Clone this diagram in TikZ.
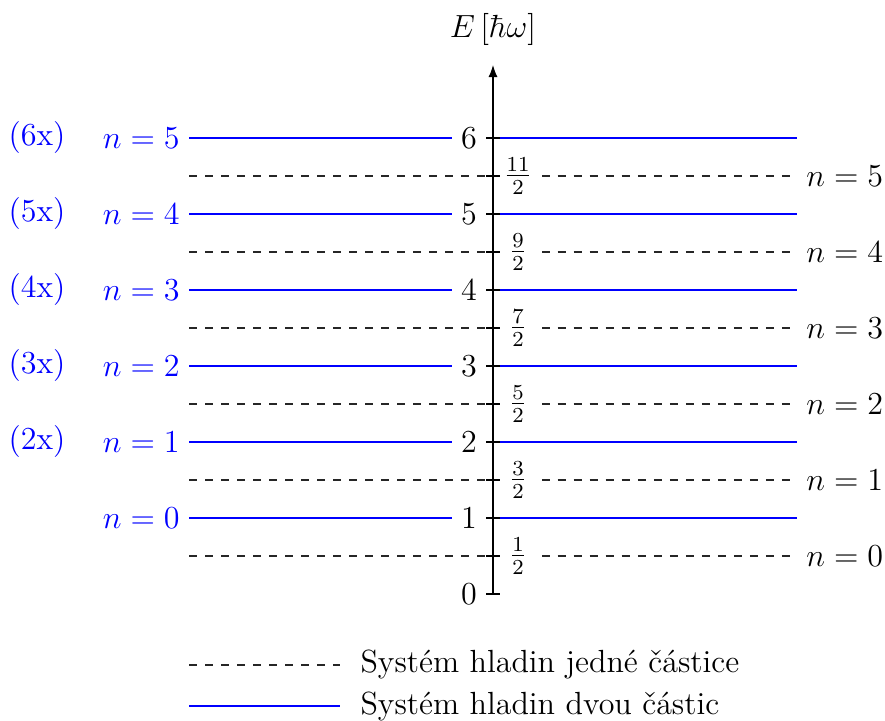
\documentclass[tikz,border=0pt]{standalone}
\usetikzlibrary{arrows.meta}
\begin{document}
\begin{tikzpicture}[
  lvl/.style={blue, line width=0.4pt},
  halflvl/.style={dashed, line width=0.4pt, black!85},
  txt/.style={font=\large},
  ticklab/.style={font=\large, fill=white},
  bluelab/.style={font=\large, text=blue}
]
\useasboundingbox (-6.487,-1.658) rectangle (5.158,7.816);
% levels of two particles (blue) and one particle (dashed)
\foreach \k in {1,...,6} {
  \draw[lvl] (-4,\k) -- (4,\k);
}
\foreach \k in {0,...,5} {
  \draw[halflvl] (-4,\k+0.5) -- (4,\k+0.5);
}
% integer tick labels
\foreach \k in {0,...,6} {
  \node[ticklab, anchor=east] (t\k) at (-0.09,\k) {$\k$};
}
% half tick labels
\foreach \k/\f in {0/1,1/3,2/5,3/7,4/9,5/11} {
  \node[ticklab, minimum width=0.62cm] (h\k) at (0.33,\k+0.5) {$\frac{\f}{2}$};
}
% axis
\coordinate (ax0) at (0,0);
\coordinate (ax1) at (0,6.96);
\draw[-{Latex[length=1.6mm,width=1.2mm]}, line width=0.4pt] (ax0) -- (ax1);
\node[txt] (Elab) at (0,7.43) {$E\,[\hbar\omega]$};
\foreach \y in {0,0.5,...,6} {
  \draw[line width=0.4pt] (-0.09,\y) -- (0.09,\y);
}
% left labels
\foreach \k/\m in {1/0,2/1,3/2,4/3,5/4,6/5} {
  \node[bluelab, anchor=east] (L\k) at (-4,\k) {$n=\m$};
}
\foreach \k in {2,...,6} {
  \node[bluelab] (M\k) at (-6,\k) {(\k x)};
}
% right labels
\foreach \k in {0,...,5} {
  \node[txt, anchor=west] (R\k) at (4,\k+0.5) {$n=\k$};
}
% legend
\coordinate (lg1a) at (-4,-0.934);
\coordinate (lg1b) at (-2.01,-0.934);
\coordinate (lg2a) at (-4,-1.474);
\coordinate (lg2b) at (-2.01,-1.474);
\draw[halflvl] (lg1a) -- (lg1b);
\draw[lvl] (lg2a) -- (lg2b);
\node[txt, anchor=west, inner sep=0pt] (leg1) at (-1.75,-0.934) {Systém hladin jedné částice};
\node[txt, anchor=west, inner sep=0pt] (leg2) at (-1.75,-1.474) {Systém hladin dvou částic};
\end{tikzpicture}
\end{document}
